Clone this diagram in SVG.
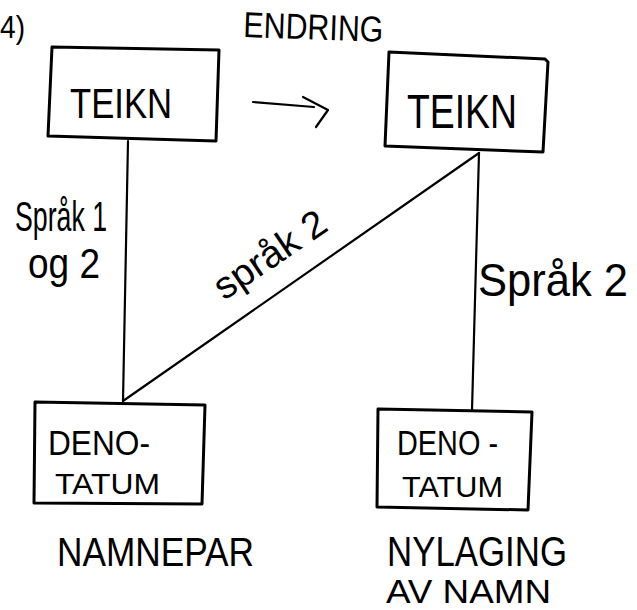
<svg xmlns="http://www.w3.org/2000/svg" width="637" height="610" viewBox="0 0 637 610">
  <style>
    .box { fill: none; stroke: #000; stroke-width: 3; stroke-linejoin: round; }
    .edge { fill: none; stroke: #000; stroke-width: 2.2; stroke-linecap: round; stroke-linejoin: round; }
    .t { font-family: "Liberation Sans", "DejaVu Sans", sans-serif; fill: #000; }
  </style>
  <rect width="637" height="610" fill="#fff"/>

  <!-- labels outside nodes -->
  <text class="t" x="0" y="38" font-size="32" textLength="25" lengthAdjust="spacingAndGlyphs">4)</text>
  <text class="t" x="243" y="37" font-size="36" textLength="140" lengthAdjust="spacingAndGlyphs" transform="rotate(2 243 37)">ENDRING</text>

  <!-- connectors -->
  <g id="connectors">
    <line class="edge" x1="128" y1="141" x2="123" y2="401"/>
    <line class="edge" x1="479" y1="153" x2="472" y2="410"/>
    <line class="edge" x1="479" y1="153" x2="123" y2="401"/>
    <path class="edge" d="M253 102 L314 107"/>
    <path class="edge" d="M303 97 L328 110 L316 127"/>
    <text class="t" x="15" y="231" font-size="42" textLength="92" lengthAdjust="spacingAndGlyphs">Språk 1</text>
    <text class="t" x="28" y="278" font-size="42" textLength="72" lengthAdjust="spacingAndGlyphs">og 2</text>
    <text class="t" x="224" y="301" font-size="38" textLength="128" lengthAdjust="spacingAndGlyphs" transform="rotate(-34 224 301)">språk 2</text>
    <text class="t" x="478" y="296" font-size="46" textLength="150" lengthAdjust="spacingAndGlyphs">Språk 2</text>
  </g>

  <!-- sign, before change -->
  <g id="teikn-1">
    <path class="box" d="M52 47 L219 50 L216 141 L48 136 Z"/>
    <text class="t" x="70" y="118" font-size="43" textLength="102" lengthAdjust="spacingAndGlyphs">TEIKN</text>
  </g>

  <!-- sign, after change -->
  <g id="teikn-2">
    <path class="box" d="M389 52 L545 59 L548 62 L543 152 L385 146 Z"/>
    <text class="t" x="407" y="128" font-size="48" textLength="110" lengthAdjust="spacingAndGlyphs">TEIKN</text>
  </g>

  <!-- denotatum, name pair -->
  <g id="denotatum-1">
    <path class="box" d="M35 402 L205 405 L202 504 L34 503 Z"/>
    <text class="t" x="48" y="455" font-size="35" textLength="102" lengthAdjust="spacingAndGlyphs">DENO-</text>
    <text class="t" x="55" y="494" font-size="29" textLength="105" lengthAdjust="spacingAndGlyphs">TATUM</text>
    <text class="t" x="57" y="566" font-size="41" textLength="197" lengthAdjust="spacingAndGlyphs">NAMNEPAR</text>
  </g>

  <!-- denotatum, new name -->
  <g id="denotatum-2">
    <path class="box" d="M378 409 L532 412 L528 510 L377 507 Z"/>
    <text class="t" x="397" y="455" font-size="35" textLength="101" lengthAdjust="spacingAndGlyphs">DENO -</text>
    <text class="t" x="402" y="497" font-size="29" textLength="101" lengthAdjust="spacingAndGlyphs">TATUM</text>
    <text class="t" x="387" y="566" font-size="43" textLength="180" lengthAdjust="spacingAndGlyphs">NYLAGING</text>
    <text class="t" x="386" y="603" font-size="34" textLength="165" lengthAdjust="spacingAndGlyphs">AV NAMN</text>
  </g>
</svg>
